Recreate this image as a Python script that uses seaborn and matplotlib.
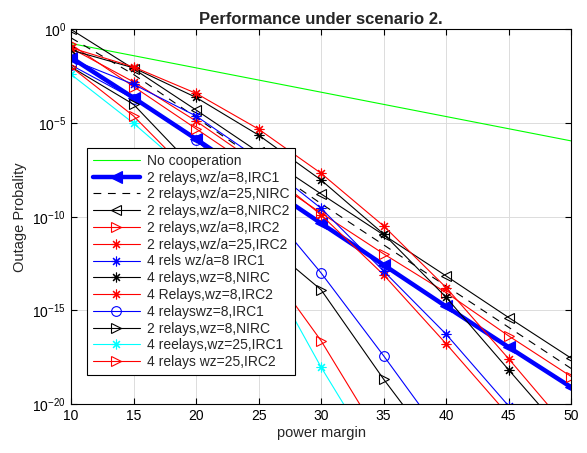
import numpy as np
import matplotlib
matplotlib.use("Agg")
import matplotlib.pyplot as plt
import seaborn as sns
from matplotlib.ticker import NullLocator

nan = np.nan
power_margin = [10, 15, 20, 25, 30, 35, 40, 45, 50]

# log10 of the outage probability
no_coop = [-0.75, -1.4, -2.05, -2.7, -3.35, -4.0, -4.65, -5.3, -5.95]
r2_a8_irc1 = [-1.5, -3.65, -5.85, -8.1, -10.35, -12.57, -14.79, -16.96, -19.1]
r2_a25_nirc = [-0.45, -2.4, -4.7, -7.0, -9.3, -11.5, -13.7, -15.9, -18.1]
r2_a8_nirc2 = [0.0, -2.1, -4.3, -6.55, -8.78, -10.97, -13.16, -15.38, -17.55]
r2_a8_irc2 = [-0.8, -3.05, -5.3, -7.55, -9.8, -11.98, -14.05, -16.36, -18.53]
r2_a25_irc2 = [-1.0, -2.8, -4.89, -7.2, -9.9, -13.1, -16.78, -20.6, -24.5]
r4_a8_irc1 = [-1.6, -2.93, -4.62, -6.9, -9.55, -12.9, -16.27, -20.1, -24.0]
r4_8_nirc = [-1.1, -2.05, -3.63, -5.64, -8.04, -10.92, -14.3, -18.17, -22.0]
r4_8_irc2 = [-0.98, -2.0, -3.41, -5.32, -7.68, -10.49, -13.78, -17.58, -21.5]
r4_8_irc1_o = [-1.9, -3.7, -5.9, -9.0, -13.0, -17.42, -22.0, nan, nan]
r2_8_nirc = [-2.0, -4.0, -7.5, -11.1, -13.9, -18.67, -23.1, nan, nan]
r4_25_irc1 = [-2.4, -5.01, -7.9, -12.0, -18.03, -23.5, nan, nan, nan]
r4_25_irc2 = [-2.0, -4.62, -8.0, -12.0, -16.62, -22.1, nan, nan, nan]

labels = [
    "No cooperation",
    "2 relays,wz/a=8,IRC1",
    "2 relays,wz/a=25,NIRC",
    "2 relays,wz/a=8,NIRC2",
    "2 relays,wz/a=8,IRC2",
    "2 relays,wz/a=25,IRC2",
    "4 rels wz/a=8 IRC1",
    "4 relays,wz=8,NIRC",
    "4 Relays,wz=8,IRC2",
    "4 relayswz=8,IRC1",
    "2 relays,wz=8,NIRC",
    "4 reelays,wz=25,IRC1",
    "4 relays wz=25,IRC2",
]
values = [no_coop, r2_a8_irc1, r2_a25_nirc, r2_a8_nirc2, r2_a8_irc2, r2_a25_irc2,
          r4_a8_irc1, r4_8_nirc, r4_8_irc2, r4_8_irc1_o, r2_8_nirc, r4_25_irc1, r4_25_irc2]

G, B, K, R, C = (0, 1, 0), (0, 0, 1), (0, 0, 0), (1, 0, 0), (0, 1, 1)
ast = (8, 2, 0)
styles = [
    dict(color=G, marker=None),
    dict(color=B, marker="<", lw=3.2, ms=9, mfc=B),
    dict(color=K, marker=None, linestyle=(0, (7, 6))),
    dict(color=K, marker="<", mfc="none"),
    dict(color=R, marker=">", mfc="none"),
    dict(color=R, marker=ast),
    dict(color=B, marker=ast),
    dict(color=K, marker=ast),
    dict(color=R, marker=ast),
    dict(color=B, marker="o", mfc="none"),
    dict(color=K, marker=">", mfc="none"),
    dict(color=C, marker=ast),
    dict(color=R, marker=">", mfc="none"),
]

sns.set_style("ticks")
plt.rcParams["font.family"] = ["Liberation Sans", "DejaVu Sans"]
plt.rcParams["mathtext.fontset"] = "custom"
plt.rcParams["mathtext.rm"] = "Liberation Sans"
plt.rcParams["mathtext.it"] = "Liberation Sans:italic"

fig = plt.figure(figsize=(5.87, 4.53), dpi=100)
ax = fig.add_axes([0.121, 0.108, 0.852, 0.827])

for label, vals, st in zip(labels, values, styles):
    st = dict(st)
    color = st.pop("color")
    sns.lineplot(x=power_margin, y=10.0 ** np.array(vals), ax=ax, label=label,
                 color=color, linewidth=st.pop("lw", 0.8), markersize=st.pop("ms", 7),
                 markeredgecolor=color, markeredgewidth=0.8, errorbar=None, **st)

ax.set_yscale("log")
ax.set_xlim(10, 50)
ax.set_ylim(1e-20, 1e0)
ax.set_xticks(range(10, 51, 5))
ax.set_yticks([1e-20, 1e-15, 1e-10, 1e-5, 1e0])
ax.yaxis.set_minor_locator(NullLocator())
ax.tick_params(direction="in", top=True, right=True, length=4, width=0.8,
               labelsize=10, colors="k")
ax.grid(True, color="#dcdcdc", lw=0.7)
ax.set_axisbelow(True)
for s in ax.spines.values():
    s.set_color("k")
    s.set_linewidth(0.8)

ax.set_title("Performance under scenario 2.", fontweight="bold", fontsize=12, pad=4)
ax.set_xlabel("power margin", fontsize=10.5, labelpad=2)
ax.set_ylabel("Outage Probality", fontsize=10.5, labelpad=4)

leg = ax.legend(loc="upper left", bbox_to_anchor=(0.032, 0.683), borderaxespad=0,
                fontsize=10, handlelength=3.4, handletextpad=0.5, labelspacing=0.2,
                borderpad=0.4, fancybox=False, framealpha=1, edgecolor="k")
leg.get_frame().set_linewidth(0.8)

fig.savefig("out.png", dpi=100)
